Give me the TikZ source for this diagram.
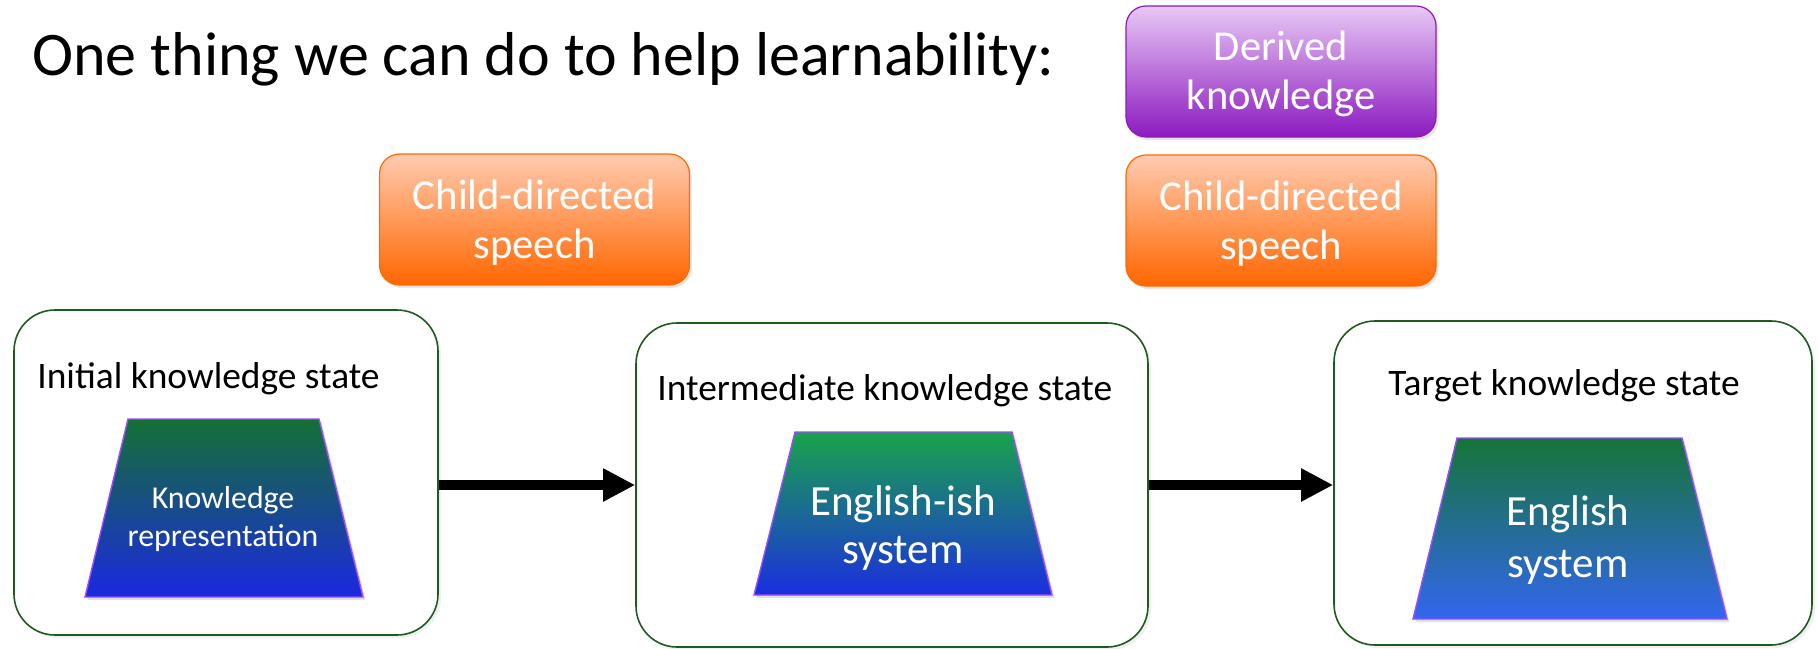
\documentclass[tikz,border=0pt]{standalone}
\usepackage{fontspec}
\setmainfont{Carlito}
\usetikzlibrary{arrows.meta,shadows}
\definecolor{boxgreen}{HTML}{1E5A1E}
\definecolor{trapline}{HTML}{9B4DFF}
\definecolor{tAtop}{HTML}{157035}
\definecolor{tAbot}{HTML}{1B28E0}
\definecolor{tBtop}{HTML}{1AA34A}
\definecolor{tBbot}{HTML}{1B2EE0}
\definecolor{tCtop}{HTML}{167438}
\definecolor{tCbot}{HTML}{3366EE}
\definecolor{orTop}{HTML}{FFCBB0}
\definecolor{orMid}{HTML}{FF6A08}
\definecolor{orBot}{HTML}{FF6600}
\definecolor{orLine}{HTML}{FF6A00}
\definecolor{puTop}{HTML}{E8C8F5}
\definecolor{puMid}{HTML}{9222C2}
\definecolor{puBot}{HTML}{8C1AC0}
\definecolor{puLine}{HTML}{8C1AC0}
\begin{document}
\begin{tikzpicture}[x=0.5pt,y=-0.5pt,
  statebox/.style={draw=boxgreen, line width=0.8pt, rounded corners=20.5pt, fill=white,
    drop shadow={opacity=0.12, shadow xshift=1.5pt, shadow yshift=-1.5pt}},
  orbox/.style={draw=orLine, line width=0.6pt, rounded corners=10pt,
    top color=orTop, middle color=orMid, bottom color=orBot,
    drop shadow={opacity=0.2, shadow xshift=1.2pt, shadow yshift=-1.5pt},
    minimum width=155pt, minimum height=65.5pt, inner sep=0pt},
  pubox/.style={draw=puLine, line width=0.6pt, rounded corners=10pt,
    top color=puTop, middle color=puMid, bottom color=puBot,
    drop shadow={opacity=0.2, shadow xshift=1.2pt, shadow yshift=-1.5pt},
    minimum width=155pt, minimum height=65.5pt, inner sep=0pt},
  boxtext/.style={text=white, align=center, font=\fontsize{21.3}{24.5}\selectfont, inner sep=0pt},
  statelabel/.style={anchor=base west, inner sep=0pt, font=\fontsize{18.7}{23}\selectfont},
  trapline/.style={draw=trapline, line width=0.7pt,
    drop shadow={opacity=0.25, shadow xshift=1.2pt, shadow yshift=-1.5pt}},
  traptext/.style={text=white, align=center, inner sep=0pt},
  bigarrow/.style={line width=5.25pt, -{Triangle[length=16pt,width=15.5pt]}}
]
\useasboundingbox (0,0) rectangle (1818,648);

% title
\node[anchor=base west, inner sep=0pt, font=\fontsize{31}{38}\selectfont] (title) at (32,75) {One thing we can do to help learnability:};

% top boxes
\node[pubox] (dk) at (1281,71.5) {};
\node[boxtext] (dkt) at (1281,74) {Derived\\knowledge};
\node[orbox] (cdsA) at (534.5,219.5) {};
\node[boxtext] (cdsAt) at (534.5,223) {Child-directed\\speech};
\node[orbox] (cdsB) at (1281,220.5) {};
\node[boxtext] (cdsBt) at (1281,224) {Child-directed\\speech};

% state boxes
\node[statebox, minimum width=212pt, minimum height=162.5pt] (b1) at (226,472.5) {};
\node[statebox, minimum width=256pt, minimum height=162pt] (b2) at (892,485) {};
\node[statebox, minimum width=239pt, minimum height=162pt] (b3) at (1573,483) {};

\node[statelabel] (l1) at (37,388) {Initial knowledge state};
\node[statelabel] (l2) at (657,400) {Intermediate knowledge state};
\node[statelabel] (l3) at (1388,395) {Target knowledge state};

% trapezoids
\shade[trapline, top color=tAtop, bottom color=tAbot] (128,419) -- (319,419) -- (363,597) -- (85,597) -- cycle;
\shade[trapline, top color=tBtop, bottom color=tBbot] (795,432) -- (1012,432) -- (1052,595) -- (754,595) -- cycle;
\shade[trapline, top color=tCtop, bottom color=tCbot] (1457,438) -- (1682,438) -- (1727,619) -- (1413,619) -- cycle;

\node[traptext, font=\fontsize{15.9}{19}\selectfont] (kr) at (223,519.5) {Knowledge\\representation};
\node[traptext, font=\fontsize{21.5}{24}\selectfont] (ei) at (903,528) {English-ish\\system};
\node[traptext, font=\fontsize{21.5}{26}\selectfont] (es) at (1568,540) {English\\system};

% arrows
\coordinate (a1s) at ([yshift=-6.25pt]b1.east);
\draw[bigarrow] (a1s) -- (b2.west |- a1s);
\draw[bigarrow] (b2.east) -- (b3.west |- b2.east);
\end{tikzpicture}
\end{document}
